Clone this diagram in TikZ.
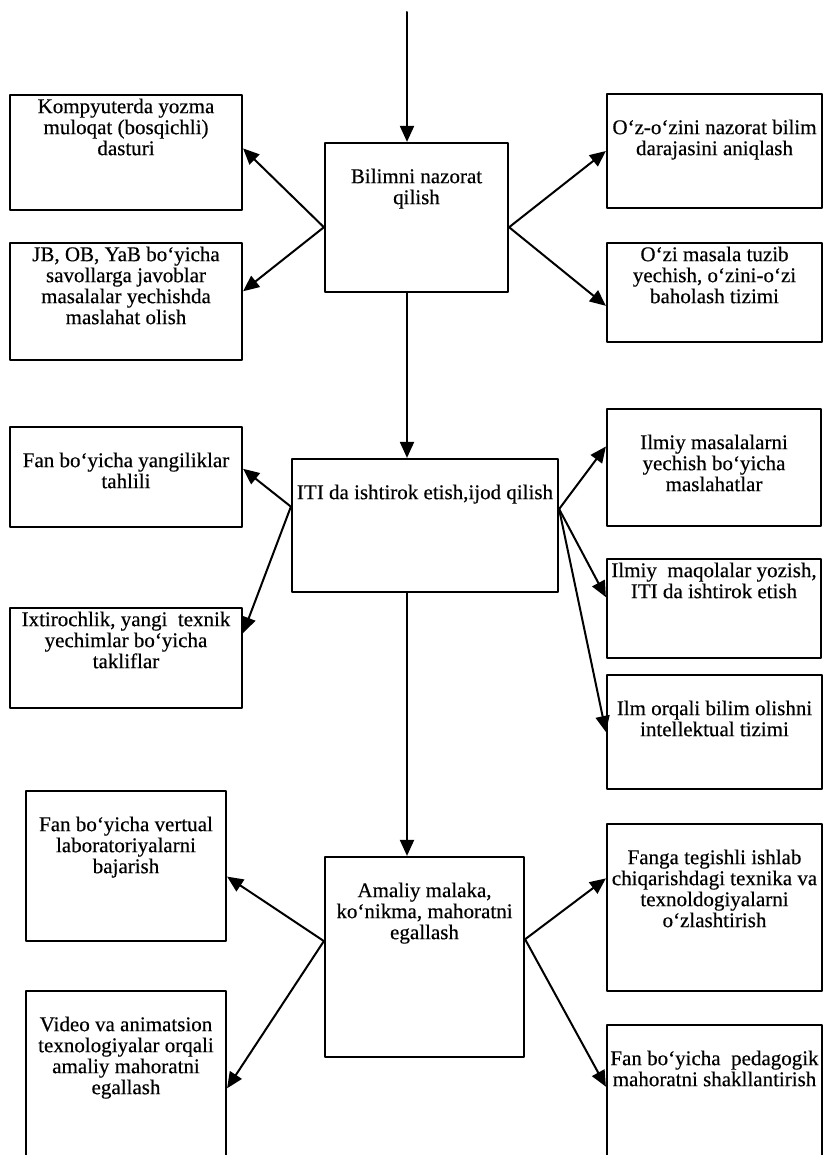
\documentclass[tikz,border=0pt]{standalone}
\usepackage{fontspec}
\setmainfont{Liberation Serif}[FakeBold=0.4]
\usetikzlibrary{arrows.meta}
\newcommand{\boxfont}{\fontsize{21}{21}\selectfont}

\begin{document}
\begin{tikzpicture}[x=1pt, y=-1pt, line cap=round, line join=round,
    blk/.style={draw, line width=2.2pt, inner sep=0pt},
    txt/.style={anchor=north, align=center, inner sep=0pt, font=\boxfont},
    txthi/.style={txt, yshift=-4.5pt},
    txtlo/.style={txt, yshift=-26.5pt},
    arr/.style={line width=2pt, -{Triangle[length=16pt,width=14pt]}}]

    \useasboundingbox (0,0) rectangle (823,1155);
    \clip (0,0) rectangle (823,1155);

    % ------------------------------------------------------------------
    % 1. Central column
    % ------------------------------------------------------------------
    \node[blk, minimum width=183pt, minimum height=149pt,
        label={[txtlo]north:{Bilimni nazorat\\qilish}}] (bilimB) at (416.5,217.5) {};
    \node[blk, minimum width=266pt, minimum height=133pt,
        label={[txtlo]north:{ITI da ishtirok etish,ijod qilish}}] (itiB) at (425,525.5) {};
    \node[blk, minimum width=199pt, minimum height=200pt,
        label={[txtlo]north:{Amaliy malaka,\\ko‘nikma, mahoratni\\egallash}}] (amalB) at (424.5,957) {};

    \coordinate (top) at (407,12);
    \draw[arr] (top) -- (top |- bilimB.north);
    \draw[arr] (top |- bilimB.south) -- (top |- itiB.north);
    \draw[arr] (top |- itiB.south) -- (top |- amalB.north);

    % ------------------------------------------------------------------
    % 2. First row (knowledge control)
    % ------------------------------------------------------------------
    \node[blk, minimum width=232pt, minimum height=115pt,
        label={[txthi]north:{Kompyuterda yozma\\muloqat (bosqichli)\\dasturi}}] (kompB) at (126,152.5) {};
    \node[blk, minimum width=232pt, minimum height=117pt,
        label={[txthi]north:{JB, OB, YaB bo‘yicha\\savollarga javoblar\\masalalar yechishda\\maslahat olish}}] (jbB) at (126,301.5) {};
    \node[blk, minimum width=215pt, minimum height=114pt,
        label={[txtlo]north:{O‘z-o‘zini nazorat bilim\\darajasini aniqlash}}] (ozB) at (714.5,151) {};
    \node[blk, minimum width=215pt, minimum height=99pt,
        label={[txthi]north:{O‘zi masala tuzib\\yechish, o‘zini-o‘zi\\baholash tizimi}}] (ozimasB) at (714.5,292.5) {};

    \draw[arr] (bilimB.186) -- (kompB.2);
    \draw[arr] (bilimB.186) -- (jbB.5);
    \draw[arr] (bilimB.354) -- (ozB.west);
    \draw[arr] (bilimB.354) -- (ozimasB.187);

    % ------------------------------------------------------------------
    % 3. Second row (research work)
    % ------------------------------------------------------------------
    \node[blk, minimum width=232pt, minimum height=100pt,
        label={[txtlo]north:{Fan bo‘yicha yangiliklar\\tahlili}}] (fanyanB) at (126,477) {};
    \node[blk, minimum width=232pt, minimum height=100pt,
        label={[txthi]north:{Ixtirochlik, yangi\enspace texnik\\yechimlar bo‘yicha\\takliflar}}] (ixtB) at (126,658) {};
    \node[blk, minimum width=214pt, minimum height=117pt,
        label={[txtlo]north:{Ilmiy masalalarni\\yechish bo‘yicha\\maslahatlar}}] (ilmmasB) at (714,467.5) {};
    \node[blk, minimum width=214pt, minimum height=99pt,
        label={[txthi]north:{Ilmiy\enspace maqolalar yozish,\\ITI da ishtirok etish}}] (ilmmaqB) at (714,608.5) {};
    \node[blk, minimum width=215pt, minimum height=114pt,
        label={[txtlo]north:{Ilm orqali bilim olishni\\intellektual tizimi}}] (ilmorqB) at (714.5,732) {};

    \draw[arr] (itiB.172) -- (fanyanB.4);
    \draw[arr] (itiB.172) -- (ixtB.12);
    \draw[arr] (itiB.7) -- (ilmmasB.169);
    \draw[arr] (itiB.7) -- (ilmmaqB.174);
    \draw[arr] (itiB.7) -- (ilmorqB.west);

    % ------------------------------------------------------------------
    % 4. Third row (practical skills)
    % ------------------------------------------------------------------
    \node[blk, minimum width=200pt, minimum height=150pt,
        label={[txtlo]north:{Fan bo‘yicha vertual\\laboratoriyalarni\\bajarish}}] (vertB) at (126,866) {};
    \node[blk, minimum width=200pt, minimum height=184pt,
        label={[txtlo]north:{Video va animatsion\\texnologiyalar orqali\\amaliy mahoratni\\egallash}}] (videoB) at (126,1083) {};
    \node[blk, minimum width=215pt, minimum height=167pt,
        label={[txtlo]north:{Fanga tegishli ishlab\\chiqarishdagi texnika va\\texnoldogiyalarni\\o‘zlashtirish}}] (fangaB) at (714.5,907.5) {};
    \node[blk, minimum width=215pt, minimum height=150pt,
        label={[txtlo]north:{Fan bo‘yicha\enspace pedagogik\\mahoratni shakllantirish}}] (pedB) at (714.5,1100) {};

    \draw[arr] (amalB.171) -- (vertB.354);
    \draw[arr] (amalB.171) -- (videoB.357);
    \draw[arr] (amalB.10) -- (fangaB.165);
    \draw[arr] (amalB.10) -- (pedB.173);

\end{tikzpicture}
\end{document}
